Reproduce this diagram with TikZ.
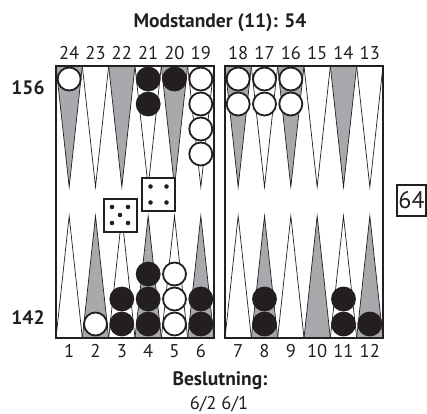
\documentclass[tikz,border=0pt]{standalone}
\usepackage{fontspec}
\setmainfont{PT Sans}
\definecolor{pointgray}{RGB}{167,169,172}
\definecolor{boardblack}{RGB}{35,31,32}
\tikzset{
    point/.style={draw=boardblack, line width=0.7pt},
    checker/.style={draw=boardblack, line width=1.8pt},
    frame/.style={draw=boardblack, line width=2.2pt},
    die/.style={draw=boardblack, fill=white, line width=2pt, minimum size=33pt, inner sep=0pt},
    pip/.style={fill=boardblack},
    numtext/.style={font=\fontsize{18.5}{21}\selectfont, text=boardblack, inner sep=0pt},
    boldtext/.style={font=\fontsize{19.5}{22}\selectfont\bfseries, text=boardblack, inner sep=0pt}
}

\begin{document}
\begin{tikzpicture}[x=1pt, y=-1pt]
    \useasboundingbox (0,0) rectangle (427,413);
    \foreach \x in {56,225} {
        \foreach \i/\c in {0/pointgray,1/white,2/pointgray,3/white,4/pointgray,5/white}
            \draw[point, fill=\c] (\x+26.33*\i,66) -- (\x+26.33*\i+13.17,187) -- (\x+26.33*\i+26.33,66) -- cycle;
        \foreach \i/\c in {0/white,1/pointgray,2/white,3/pointgray,4/white,5/pointgray}
            \draw[point, fill=\c] (\x+26.33*\i,338) -- (\x+26.33*\i+13.17,216) -- (\x+26.33*\i+26.33,338) -- cycle;
    }
    \draw[frame] (56,66) rectangle (214,338);
    \draw[frame] (225,66) rectangle (383,338);
    \foreach \x/\n/\c in {69.2/1/white, 148.2/2/boardblack, 174.5/1/boardblack, 200.8/4/white,
                          238.2/2/white, 264.5/2/white, 290.8/2/white}
        \foreach \k in {1,...,\n} \draw[checker, fill=\c] (\x,54+25*\k) circle (11.5);
    \foreach \x/\n/\c in {95.5/1/white, 121.8/2/boardblack, 148.2/3/boardblack, 174.5/3/white,
                          200.8/2/boardblack, 264.5/2/boardblack, 343.5/2/boardblack, 369.8/1/boardblack}
        \foreach \k in {1,...,\n} \draw[checker, fill=\c] (\x,349-25*\k) circle (11.5);
    \foreach \x in {56,225} \foreach \i in {0,...,5} {
        \pgfmathtruncatemacro\top{\x==56 ? 24-\i : 18-\i}
        \pgfmathtruncatemacro\bot{\x==56 ? 1+\i : 7+\i}
        \node[numtext] (p\top) at (\x+26.33*\i+13.17,53) {\top};
        \node[numtext] (p\bot) at (\x+26.33*\i+13.17,351) {\bot};
    }
    \node[die] (dieFive) at (120,215) {};
    \node[die] (dieFour) at (158.5,194.5) {};
    \foreach \dx/\dy in {-8/-8,8/-8,0/0,-8/8,8/8}
        \fill[pip] ([shift={(\dx,\dy)}]dieFive.center) circle (2.3);
    \foreach \dx/\dy in {-8/-8,8/-8,-8/8,8/8}
        \fill[pip] ([shift={(\dx,\dy)}]dieFour.center) circle (2.3);
    \node[draw=boardblack, line width=1.2pt, minimum width=29pt, minimum height=31pt, inner sep=0pt,
          font=\fontsize{24}{26}\selectfont, text=boardblack] (cube) at (411.5,200.5) {64};
    \node[boldtext] (title) at (220,23) {Modstander (11): 54};
    \node[boldtext] (pipTop) at (28,88) {156};
    \node[boldtext] (pipBottom) at (28,318) {142};
    \node[boldtext] (decision) at (220,381) {Beslutning:};
    \node[numtext] (move) at (219,404) {6/2 6/1};
\end{tikzpicture}
\end{document}
